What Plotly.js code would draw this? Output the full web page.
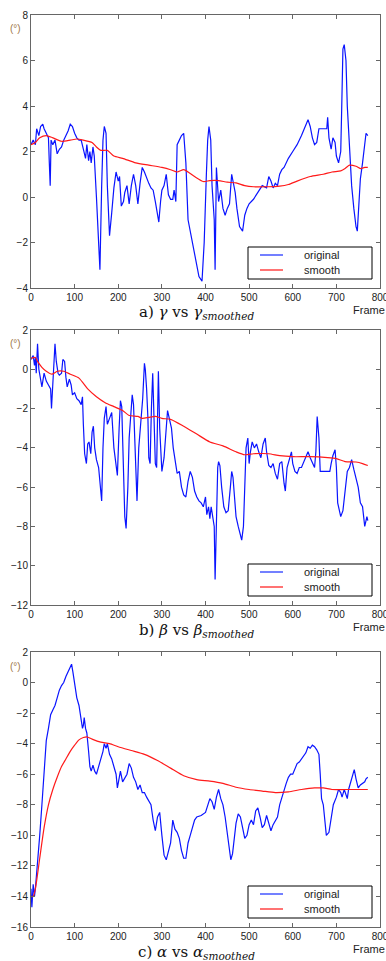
<!DOCTYPE html>
<html>
<head>
<meta charset="utf-8">
<script src="https://cdn.plot.ly/plotly-3.0.1.min.js"></script>
<style>html,body{margin:0;padding:0;background:#fff;}#chart{width:386px;height:961px;}</style>
</head>
<body>
<div id="chart"></div>
<script>
// ---------- gamma ----------
const gammaOrigX = [0,5,10,13,18,22,27,30,35,40,42,44,46,50,55,60,65,70,75,80,85,90,95,100,105,110,115,120,125,128,132,135,138,142,145,150,155,158,162,165,168,172,175,178,180,185,190,195,200,203,207,212,215,220,225,230,235,240,245,250,255,260,265,270,275,280,285,290,293,297,300,305,310,315,320,325,328,332,335,340,345,350,355,360,370,380,385,392,397,402,405,408,412,415,420,422,425,430,435,440,445,450,455,460,463,468,472,478,485,490,495,500,510,520,530,540,545,550,555,560,565,570,575,580,590,600,610,620,630,635,640,645,650,655,660,670,678,680,683,688,692,697,700,705,710,712,715,718,722,725,730,735,740,745,748,752,755,760,765,768,772];
const gammaOrigY = [2.3,2.5,2.3,3.0,2.7,3.1,3.2,3.0,2.8,2.6,1.5,0.5,2.5,2.3,2.5,1.9,2.1,2.2,2.5,2.7,2.9,3.2,3.1,2.8,2.6,2.5,2.5,2.1,1.7,2.3,1.6,2.0,1.5,2.2,1.8,0.0,-2.0,-3.2,0.5,2.5,3.1,2.8,0.5,-1.0,-1.7,-0.7,0.4,1.1,0.7,0.9,-0.4,-0.2,0.2,0.5,-0.3,0.5,1.0,0.5,-0.3,0.6,1.3,1.1,0.8,0.6,0.4,0.3,-0.2,-0.9,-1.1,-0.2,0.3,0.5,1.0,0.1,-0.1,-0.1,0.3,-0.2,2.3,2.5,2.7,2.8,1.5,-1.0,-2.0,-3.0,-3.5,-3.7,-2.0,1.0,2.5,3.1,2.5,0.5,-1.0,-3.2,1.3,-0.2,0.3,-0.5,-0.8,-0.5,-0.3,1.0,0.7,0.2,-0.5,-1.3,-1.5,-0.8,-0.5,-0.3,-0.1,0.2,0.5,0.4,0.9,0.7,0.4,0.6,0.5,1.0,1.2,1.3,1.7,2.0,2.3,2.7,3.2,3.4,3.1,2.6,2.3,2.4,3.0,3.0,3.0,3.5,2.6,2.1,2.6,2.4,1.8,1.5,2.0,3.7,6.5,6.7,6.0,4.0,2.0,0.5,-0.5,-1.3,-1.5,0.0,0.8,1.5,2.3,2.8,2.7];
const gammaSmoothX = [0,10,20,35,50,70,90,105,120,140,150,160,175,190,210,240,270,300,320,335,350,360,375,395,410,430,450,470,490,510,540,570,590,610,640,670,690,710,720,730,745,755,765,772];
const gammaSmoothY = [2.3,2.4,2.6,2.7,2.6,2.45,2.5,2.55,2.5,2.4,2.2,2.05,2.05,1.8,1.7,1.5,1.4,1.3,1.2,1.1,1.2,1.1,0.9,0.68,0.72,0.72,0.65,0.62,0.5,0.45,0.45,0.48,0.55,0.7,0.9,1.0,1.1,1.15,1.25,1.4,1.35,1.25,1.3,1.3];

// ---------- beta ----------
const betaOrigX = [0,5,8,10,12,15,18,22,25,30,35,40,45,47,50,53,55,58,62,65,70,73,77,80,83,88,92,95,100,105,110,115,118,120,123,127,130,133,137,140,143,146,150,155,160,162,165,168,172,175,180,185,190,195,198,202,205,208,212,215,218,222,225,228,232,235,240,243,247,252,256,260,262,265,268,270,273,276,279,282,285,288,290,292,295,300,305,310,313,318,322,326,330,335,340,345,350,355,360,365,370,375,380,385,390,395,400,403,407,410,413,417,420,422,425,428,430,433,437,442,447,452,457,460,463,467,470,475,480,483,487,490,493,497,500,503,507,512,517,522,527,532,537,540,545,550,555,560,565,570,575,580,583,587,593,597,600,605,610,615,620,625,630,635,640,645,650,653,656,660,663,675,685,688,692,697,700,703,710,715,720,725,730,735,740,745,750,755,760,765,770,772];
const betaOrigY = [0.5,0.7,0.2,0.6,-0.2,1.3,0.0,-0.6,-0.9,-0.2,-0.6,-0.8,-1.0,-2.0,-0.5,0.5,1.3,0.4,-0.2,-0.3,-0.2,0.5,0.4,-0.4,-0.9,-0.5,-0.8,-1.3,-1.2,-1.5,-1.6,-1.8,-1.4,-2.8,-4.3,-4.8,-3.8,-3.7,-4.3,-3.2,-2.9,-4.0,-4.6,-5.0,-6.0,-6.7,-4.0,-2.5,-1.9,-2.8,-2.5,-2.2,-4.0,-4.8,-5.4,-3.0,-1.6,-1.9,-4.5,-7.5,-8.1,-6.0,-3.5,-2.3,-1.3,-1.8,-5.0,-6.7,-4.0,-2.5,-1.5,0.3,0.0,-1.0,-2.5,-4.5,-4.8,-2.0,-0.2,-2.5,-4.8,-5.0,-3.0,-0.1,-3.0,-5.2,-4.5,-3.0,-2.1,-2.6,-3.0,-4.0,-4.6,-5.3,-5.2,-6.0,-6.4,-6.5,-5.7,-5.2,-5.5,-6.2,-6.5,-6.7,-6.8,-7.0,-6.5,-7.4,-7.0,-7.6,-7.0,-7.5,-8.0,-10.7,-7.0,-5.0,-4.7,-4.9,-6.0,-7.0,-7.3,-7.2,-6.0,-5.2,-5.5,-6.5,-7.5,-8.0,-8.5,-8.7,-8.0,-6.0,-4.0,-3.5,-4.8,-4.2,-3.7,-4.0,-3.8,-4.2,-4.5,-3.8,-3.5,-4.2,-4.9,-5.0,-4.8,-5.3,-5.6,-4.8,-4.7,-5.8,-6.2,-5.0,-4.5,-4.2,-4.8,-5.2,-5.3,-5.0,-5.0,-4.7,-4.4,-4.2,-4.5,-4.8,-5.0,-4.2,-2.4,-3.5,-5.2,-5.2,-5.2,-4.8,-4.4,-4.1,-5.0,-6.8,-7.5,-7.2,-6.0,-5.2,-5.0,-4.6,-5.1,-5.5,-6.0,-6.8,-7.0,-8.0,-7.5,-7.7];
const betaSmoothX = [0,10,15,25,35,48,60,75,90,110,130,150,170,190,210,225,245,255,270,285,300,320,350,380,410,440,470,490,510,545,570,600,640,680,700,720,745,760,772];
const betaSmoothY = [0.55,0.6,0.4,0.1,-0.1,-0.25,-0.1,-0.1,-0.25,-0.45,-1.0,-1.4,-1.7,-1.9,-2.1,-2.35,-2.4,-2.5,-2.45,-2.4,-2.5,-2.55,-2.9,-3.3,-3.7,-3.9,-4.2,-4.35,-4.3,-4.3,-4.4,-4.45,-4.45,-4.5,-4.55,-4.7,-4.72,-4.8,-4.9];

// ---------- alpha ----------
const alphaOrigX = [0,2,5,8,10,15,20,25,30,35,40,45,50,55,60,65,70,75,80,85,90,93,96,100,105,110,115,118,120,122,125,128,132,135,138,142,146,150,155,160,165,168,172,175,180,185,190,195,198,202,205,210,215,220,225,230,235,240,245,250,255,260,265,270,275,280,285,290,295,300,305,310,315,320,325,330,335,340,345,350,355,360,365,370,375,380,390,400,405,410,415,420,425,430,435,440,445,450,455,458,462,467,470,475,480,485,490,495,500,505,510,515,520,525,530,535,540,545,550,555,560,565,570,575,580,585,590,595,600,605,610,615,620,625,630,635,640,645,650,655,660,663,666,670,673,677,683,688,693,700,705,710,713,718,722,725,728,733,737,741,745,750,755,760,765,768,772];
const alphaOrigY = [-13.5,-14.7,-13.2,-14.0,-13.5,-12.0,-10.0,-8.0,-5.5,-3.8,-3.0,-2.1,-1.8,-1.5,-1.0,-0.5,-0.2,0.0,0.4,0.7,1.0,1.2,0.7,0.0,-1.0,-1.5,-2.5,-3.0,-2.8,-2.3,-3.0,-3.3,-4.5,-5.5,-5.8,-5.4,-5.8,-6.0,-5.5,-5.0,-4.5,-4.0,-4.3,-4.0,-4.7,-5.0,-5.5,-6.0,-6.9,-6.2,-5.8,-6.5,-6.2,-6.0,-5.3,-5.6,-6.2,-6.5,-7.0,-6.7,-7.2,-7.2,-7.5,-7.8,-8.0,-9.0,-9.7,-8.8,-8.5,-10.0,-11.3,-11.6,-11.0,-10.5,-9.0,-9.6,-9.8,-10.2,-11.0,-11.5,-11.5,-10.5,-10.0,-9.5,-9.0,-8.8,-8.7,-8.5,-8.0,-7.6,-7.8,-8.3,-7.5,-7.0,-7.6,-8.0,-8.8,-10.0,-11.0,-11.6,-11.2,-10.0,-9.2,-8.6,-8.8,-9.5,-10.2,-10.0,-9.3,-9.0,-9.3,-8.4,-8.2,-8.8,-9.5,-9.3,-8.7,-9.2,-9.7,-9.3,-9.0,-8.8,-8.0,-7.5,-7.0,-6.6,-6.2,-6.0,-6.0,-5.6,-5.3,-5.2,-5.0,-4.8,-4.6,-4.2,-4.3,-4.1,-4.2,-4.4,-4.7,-6.0,-7.6,-8.0,-9.0,-10.0,-9.8,-9.0,-8.0,-7.5,-7.0,-7.2,-7.5,-7.0,-7.3,-7.6,-7.0,-6.5,-6.2,-5.7,-6.3,-6.9,-6.7,-6.6,-6.5,-6.3,-6.2];
const alphaSmoothX = [0,5,10,20,30,40,50,60,70,80,90,100,110,120,128,140,160,180,200,230,260,290,320,350,380,410,440,470,500,530,560,590,620,650,670,690,720,750,772];
const alphaSmoothY = [-14.0,-14.0,-13.5,-11.5,-9.5,-8.0,-7.0,-6.2,-5.5,-5.0,-4.5,-4.1,-3.75,-3.6,-3.55,-3.7,-3.9,-4.0,-4.2,-4.45,-4.7,-5.1,-5.6,-6.1,-6.35,-6.45,-6.6,-6.85,-7.0,-7.1,-7.2,-7.15,-7.0,-6.9,-6.9,-7.0,-7.0,-7.0,-7.0];

const seriesNames = ['original', 'smooth'];
const captions = [
  'a) <i>γ</i> vs <i>γ</i><sub><i>smoothed</i></sub>',
  'b) <i>β</i> vs <i>β</i><sub><i>smoothed</i></sub>',
  'c) <i>α</i> vs <i>α</i><sub><i>smoothed</i></sub>'
];
const yRanges = [[-4, 8], [-12, 2], [-16, 2]];
const yTicks = [[-4,-2,0,2,4,6,8], [-12,-10,-8,-6,-4,-2,0,2], [-16,-14,-12,-10,-8,-6,-4,-2,0,2]];
const xTicks = [0,100,200,300,400,500,600,700,800];

const W = 386, H = 961;
const px = v => v / W;
const py = v => 1 - v / H;
const plotBoxes = [ [15, 288], [330, 605], [652, 927] ];
const xDom = [px(31), px(380)];

const BLUE = '#0a14ff', RED = '#ff1a1a';
const LEG_BLUE = '#5060ff', LEG_RED = '#ff5050';
const data = [];
const dsets = [
  [gammaOrigX, gammaOrigY, gammaSmoothX, gammaSmoothY],
  [betaOrigX, betaOrigY, betaSmoothX, betaSmoothY],
  [alphaOrigX, alphaOrigY, alphaSmoothX, alphaSmoothY]
];
dsets.forEach((d, i) => {
  const sx = i === 0 ? '' : String(i + 1);
  data.push({x: d[0], y: d[1], type: 'scatter', mode: 'lines', name: seriesNames[0],
    line: {color: BLUE, width: 1.2}, xaxis: 'x' + sx, yaxis: 'y' + sx, showlegend: false});
  data.push({x: d[2], y: d[3], type: 'scatter', mode: 'lines', name: seriesNames[1],
    line: {color: RED, width: 1.2, shape: 'spline', smoothing: 0.6}, xaxis: 'x' + sx, yaxis: 'y' + sx, showlegend: false});
});

const axisCommon = {
  showgrid: false, zeroline: false, showline: true, linecolor: '#666', linewidth: 1,
  mirror: 'ticks', ticks: 'inside', ticklen: 4, tickcolor: '#666', tickwidth: 1,
  ticklabeloverflow: 'allow',
  tickfont: {family: 'Arial, Liberation Sans, sans-serif', size: 10, color: '#222'}
};

const layout = {
  width: W, height: H, margin: {l: 0, r: 0, t: 0, b: 0},
  paper_bgcolor: '#fff', plot_bgcolor: '#fff', showlegend: false,
  annotations: [], shapes: []
};

const legFont = {family: 'Arial, Liberation Sans, sans-serif', size: 11, color: '#222'};
plotBoxes.forEach((b, i) => {
  const sx = i === 0 ? '' : String(i + 1);
  layout['xaxis' + sx] = Object.assign({}, axisCommon, {
    domain: xDom, range: [0, 800], tickvals: xTicks, anchor: 'y' + sx
  });
  layout['yaxis' + sx] = Object.assign({}, axisCommon, {
    domain: [py(b[1]), py(b[0])], range: yRanges[i], tickvals: yTicks[i], anchor: 'x' + sx
  });
  // legend box (drawn as shapes + text)
  const bot = b[1];
  layout.shapes.push({type: 'rect', xref: 'paper', yref: 'paper',
    x0: px(248), x1: px(372), y0: py(bot - 9), y1: py(bot - 41),
    line: {color: '#000', width: 1}, fillcolor: '#fff'});
  layout.shapes.push({type: 'line', xref: 'paper', yref: 'paper',
    x0: px(260), x1: px(283), y0: py(bot - 33), y1: py(bot - 33),
    line: {color: LEG_BLUE, width: 1.6}});
  layout.shapes.push({type: 'line', xref: 'paper', yref: 'paper',
    x0: px(260), x1: px(283), y0: py(bot - 18), y1: py(bot - 18),
    line: {color: LEG_RED, width: 1.6}});
  layout.annotations.push({text: seriesNames[0], xref: 'paper', yref: 'paper',
    x: px(302), y: py(bot - 33), xanchor: 'left', yanchor: 'middle', showarrow: false, font: legFont});
  layout.annotations.push({text: seriesNames[1], xref: 'paper', yref: 'paper',
    x: px(302), y: py(bot - 18), xanchor: 'left', yanchor: 'middle', showarrow: false, font: legFont});

  layout.annotations.push({
    text: captions[i], xref: 'paper', yref: 'paper', x: px(196), y: py(bot + 25),
    xanchor: 'center', yanchor: 'middle', showarrow: false,
    font: {family: 'DejaVu Serif, Liberation Serif, serif', size: 15, color: '#111'}
  });
  layout.annotations.push({
    text: 'Frame', xref: 'paper', yref: 'paper', x: px(387), y: py(bot + 22),
    xanchor: 'right', yanchor: 'middle', showarrow: false,
    font: {family: 'Arial, Liberation Sans, sans-serif', size: 11, color: '#222'}
  });
  layout.annotations.push({
    text: '(°)', xref: 'paper', yref: 'paper', x: px(15), y: py(b[0] + 14),
    xanchor: 'center', yanchor: 'middle', showarrow: false,
    font: {family: 'Arial, Liberation Sans, sans-serif', size: 10, color: '#a07848'}
  });
});

Plotly.newPlot('chart', data, layout, {staticPlot: true, displayModeBar: false});
</script>
</body>
</html>
